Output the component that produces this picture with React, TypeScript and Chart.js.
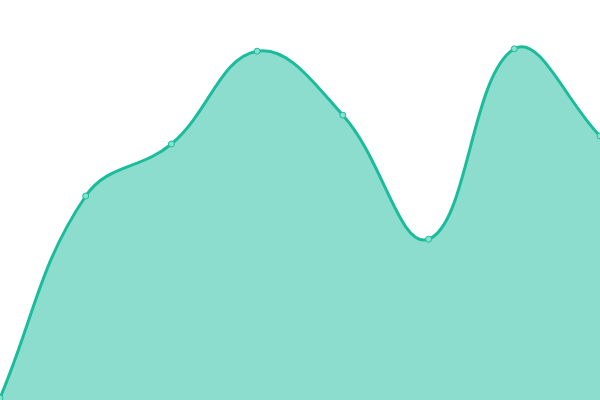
import { useEffect, useRef } from "react";
import { Chart, registerables } from "chart.js";

Chart.register(...registerables);

const labels = ["1", "2", "3", "4", "5", "6", "7", "8"];
const values = [0.5, 51, 64, 87.2, 71.2, 40.2, 87.8, 66];

export default function App() {
  const canvasRef = useRef<HTMLCanvasElement | null>(null);

  useEffect(() => {
    document.body.style.margin = "0";
    const el = canvasRef.current;
    if (!el) return;
    const chart = new Chart(el, {
      type: "line",
      data: {
        labels,
        datasets: [
          {
            data: values,
            borderColor: "#1abc9c",
            backgroundColor: "rgba(26, 188, 156, 0.5)",
            borderWidth: 3,
            fill: true,
            tension: 0.4,
            pointRadius: 3,
            pointBorderWidth: 1,
            pointBackgroundColor: "#88e0cf",
            pointBorderColor: "#1abc9c",
          },
        ],
      },
      options: {
        animation: false,
        responsive: false,
        layout: { padding: 0, autoPadding: false },
        plugins: { legend: { display: false }, tooltip: { enabled: false } },
        scales: {
          x: { display: false, offset: false },
          y: { display: false, min: 0, max: 100 },
        },
      },
    });
    return () => chart.destroy();
  }, []);

  return (
    <div style={{ width: 600, height: 400 }}>
      <canvas ref={canvasRef} width={600} height={400} />
    </div>
  );
}
